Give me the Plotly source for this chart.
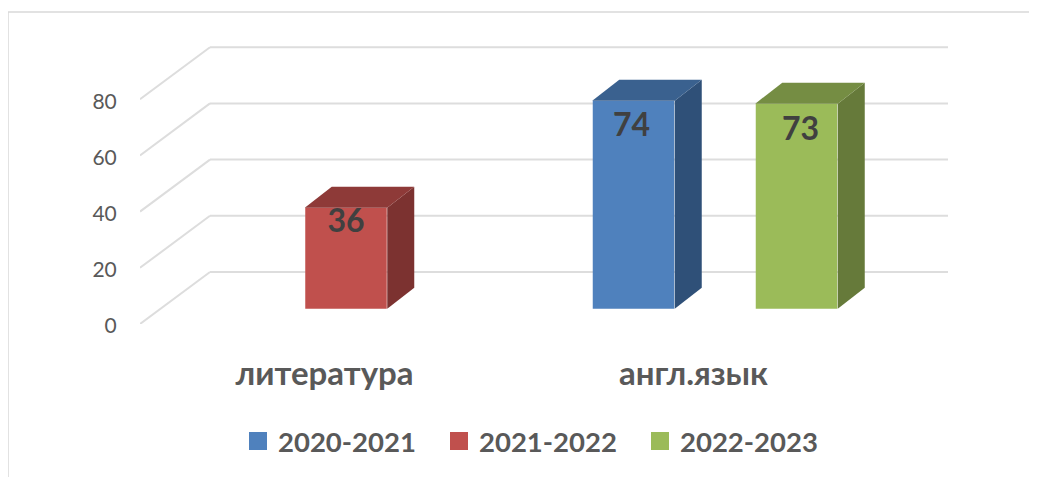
import plotly.graph_objects as go

# ---- data ----
categories = ["литература", "англ.язык"]
series_names = ["2020-2021", "2021-2022", "2022-2023"]
values_2020 = [None, 74]
values_2021 = [36, None]
values_2022 = [None, 73]
y_ticks = [0, 20, 40, 60, 80]

# ---- style ----
front = ["#4F81BD", "#C0504D", "#9BBB59"]
top = ["#3A618F", "#8E3A38", "#758D43"]
side = ["#2F5078", "#7C3230", "#667A3A"]
grid = "#DDDDDD"
text_dark = "#404040"
text_grey = "#595959"
font = "Lato, Carlito, sans-serif"

PAGE = 8                # page margin of the html body
W, H = 1037 - PAGE, 477 - PAGE
L, R, T, B = 140 - PAGE, 948 - PAGE, 30 - PAGE, 324 - PAGE
px_x = 369.0            # px per category
px_y = 2.81             # px per value unit
x_rng = (R - L) / px_x
y_rng = (B - T) / px_y

# 3-D projection in axis units
wall_dx, wall_dy = 70 / px_x, 52 / px_y
gap_dx, gap_dy = 21.5 / px_x, 15.2 / px_y
depth_dx, depth_dy = 27 / px_x, 21 / px_y
pitch = 81.5 / px_x
bar_w = 82.5 / px_x

series = [values_2020, values_2021, values_2022]
label_drop = {(0, 1): 27, (1, 0): 16, (2, 1): 28}
label_shift = {(0, 1): -2, (1, 0): 0, (2, 1): 4}

fig = go.Figure()
centers = [i + 0.5 for i in range(len(categories))]

for s, vals in enumerate(series):
    fig.add_trace(go.Bar(
        x=[c + gap_dx for c in centers], y=vals, base=[gap_dy] * len(vals),
        marker=dict(color=front[s], line=dict(width=0)),
        showlegend=False, hoverinfo="skip", name=series_names[s]))

for s, vals in enumerate(series):
    for c_i, v in enumerate(vals):
        if v is None:
            continue
        x0 = centers[c_i] + gap_dx + (s - 1) * pitch - bar_w / 2
        x1 = x0 + bar_w
        y0 = gap_dy
        y1 = v + gap_dy
        fig.add_trace(go.Scatter(
            x=[x1, x1 + depth_dx, x1 + depth_dx, x1, x1],
            y=[y0, y0 + depth_dy, y1 + depth_dy, y1, y0],
            mode="lines", fill="toself", fillcolor=side[s],
            line=dict(width=0, color=side[s]), showlegend=False, hoverinfo="skip"))
        fig.add_trace(go.Scatter(
            x=[x0, x0 + depth_dx, x1 + depth_dx, x1, x0],
            y=[y1, y1 + depth_dy, y1 + depth_dy, y1, y1],
            mode="lines", fill="toself", fillcolor=top[s],
            line=dict(width=0, color=top[s]), showlegend=False, hoverinfo="skip"))
        fig.add_trace(go.Scatter(
            x=[(x0 + x1) / 2 + label_shift[(s, c_i)] / px_x],
            y=[y1 - label_drop[(s, c_i)] / px_y],
            mode="text", text=[str(v)],
            textfont=dict(family=font, size=32, color=text_dark, weight="bold"),
            textposition="middle center", showlegend=False, hoverinfo="skip"))

# legend entries
for s, name in enumerate(series_names):
    fig.add_trace(go.Scatter(
        x=[None], y=[None], mode="markers", name=name,
        marker=dict(symbol="square", size=16, color=front[s],
                    line=dict(width=2, color=front[s]))))

shapes = []
line = dict(color=grid, width=2)
for t in y_ticks:
    shapes.append(dict(type="line", xref="x", yref="y", layer="below",
                       x0=0, y0=t, x1=wall_dx, y1=t + wall_dy, line=line))
    shapes.append(dict(type="line", xref="x", yref="y", layer="below",
                       x0=wall_dx, y0=t + wall_dy, x1=x_rng, y1=t + wall_dy, line=line))
# chart frame (given in page pixels)
fx = lambda p: (p - PAGE - L) / (R - L)
fy = lambda p: (B - (p - PAGE)) / (B - T)
frame = dict(color="#D9D9D9", width=1.5)
shapes.append(dict(type="line", xref="paper", yref="paper", layer="below",
                   x0=fx(8), y0=fy(12), x1=fx(1030), y1=fy(12), line=frame))
shapes.append(dict(type="line", xref="paper", yref="paper", layer="below",
                   x0=fx(8), y0=fy(12), x1=fx(8), y1=fy(477), line=frame))

fig.update_layout(
    width=W, height=H, margin=dict(l=L, r=W - R, t=T, b=H - B),
    paper_bgcolor="white", plot_bgcolor="rgba(0,0,0,0)",
    barmode="group", bargap=1 - 3 * pitch, bargroupgap=0,
    shapes=shapes,
    showlegend=True,
    legend=dict(orientation="h", x=fx(238), xanchor="left", y=fy(441), yanchor="middle",
                entrywidth=156, entrywidthmode="pixels", itemsizing="trace",
                traceorder="normal",
                font=dict(family=font, size=27.5, color=text_grey, weight="bold"),
                bgcolor="rgba(0,0,0,0)"),
    xaxis=dict(range=[0, x_rng], tickmode="array", tickvals=centers, ticktext=categories,
               showgrid=False, zeroline=False, showline=False,
               ticks="outside", ticklen=20, tickcolor="rgba(0,0,0,0)",
               tickfont=dict(family=font, size=33, color=text_grey, weight="bold")),
    yaxis=dict(range=[0, y_rng], tickmode="array", tickvals=y_ticks,
               showgrid=False, zeroline=False, showline=False,
               ticks="outside", ticklen=18, tickcolor="rgba(0,0,0,0)", ticklabelshift=2,
               tickfont=dict(family=font, size=21, color=text_grey)),
)

fig.write_html("out.html")
